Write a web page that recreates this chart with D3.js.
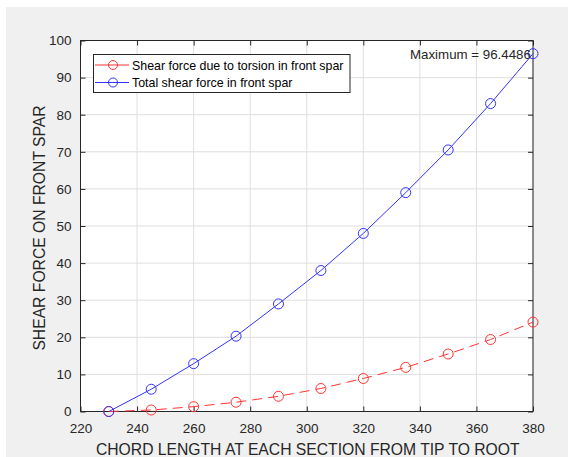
<!DOCTYPE html>
<html>
<head>
<meta charset="utf-8">
<script src="https://cdn.jsdelivr.net/npm/d3@7"></script>
<style>
  body { margin: 0; background: #fff; }
  text { font-family: "Liberation Sans", Arial, sans-serif; }
</style>
</head>
<body>
<script>
var chord = [230, 245, 260, 275, 290, 305, 320, 335, 350, 365, 380];
var torsionShear = [0, 0.4, 1.3, 2.5, 4.1, 6.2, 8.9, 11.9, 15.5, 19.4, 24.1];
var totalShear = [0, 6.0, 12.9, 20.3, 29.0, 38.0, 48.0, 59.0, 70.5, 83.0, 96.4486];
var xTicks = [220, 240, 260, 280, 300, 320, 340, 360, 380];
var yTicks = [0, 10, 20, 30, 40, 50, 60, 70, 80, 90, 100];
var seriesNames = ["Shear force due to torsion in front spar", "Total shear force in front spar"];

var width = 575, height = 457;
var plotL = 80.5, plotR = 533, plotT = 40.5, plotB = 411.5;

var svg = d3.select("body").append("svg")
  .attr("width", width)
  .attr("height", height);

svg.append("rect")
  .attr("x", 6).attr("y", 7)
  .attr("width", 562).attr("height", 450)
  .attr("fill", "#f0f0f0");

var x = d3.scaleLinear().domain([220, 380]).range([plotL, plotR]);
var y = d3.scaleLinear().domain([0, 100]).range([plotB, plotT]);

svg.append("rect")
  .attr("x", plotL).attr("y", plotT)
  .attr("width", plotR - plotL).attr("height", plotB - plotT)
  .attr("fill", "#fff");

// grid
var grid = svg.append("g").attr("stroke", "#dfdfdf").attr("stroke-width", 1);
xTicks.forEach(function (t) {
  grid.append("line").attr("x1", x(t)).attr("x2", x(t)).attr("y1", plotT).attr("y2", plotB);
});
yTicks.forEach(function (t) {
  grid.append("line").attr("x1", plotL).attr("x2", plotR).attr("y1", y(t)).attr("y2", y(t));
});

// axes with inward ticks
function styleAxis(g) {
  g.select(".domain").remove();
  g.selectAll(".tick line").attr("stroke", "#262626");
  g.selectAll(".tick text").attr("fill", "#262626").style("font-size", "13.5px")
    .style("font-family", "Liberation Sans, Arial, sans-serif");
}
svg.append("g").attr("transform", "translate(0," + plotB + ")")
  .call(d3.axisBottom(x).tickValues(xTicks).tickSizeInner(-5).tickSizeOuter(0).tickPadding(12))
  .call(styleAxis);
svg.append("g").attr("transform", "translate(0," + plotT + ")")
  .call(d3.axisTop(x).tickValues(xTicks).tickSizeInner(-5).tickSizeOuter(0).tickFormat(""))
  .call(styleAxis);
svg.append("g").attr("transform", "translate(" + plotL + ",0)")
  .call(d3.axisLeft(y).tickValues(yTicks).tickSizeInner(-5).tickSizeOuter(0).tickPadding(9))
  .call(styleAxis);
svg.append("g").attr("transform", "translate(" + plotR + ",0)")
  .call(d3.axisRight(y).tickValues(yTicks).tickSizeInner(-5).tickSizeOuter(0).tickFormat(""))
  .call(styleAxis);

svg.append("rect")
  .attr("x", plotL).attr("y", plotT)
  .attr("width", plotR - plotL).attr("height", plotB - plotT)
  .attr("fill", "none").attr("stroke", "#262626").attr("stroke-width", 1);

// series
var line = d3.line().x(function (d) { return x(d[0]); }).y(function (d) { return y(d[1]); });
var series = [
  { name: seriesNames[0], values: torsionShear, color: "#ff3333", dash: "10,6" },
  { name: seriesNames[1], values: totalShear, color: "#3333ff", dash: null }
];
series.forEach(function (s) {
  var pts = chord.map(function (c, i) { return [c, s.values[i]]; });
  svg.append("path").datum(pts)
    .attr("d", line)
    .attr("fill", "none")
    .attr("stroke", s.color)
    .attr("stroke-width", 1)
    .attr("stroke-dasharray", s.dash);
  svg.selectAll(null).data(pts).enter().append("circle")
    .attr("cx", function (d) { return x(d[0]); })
    .attr("cy", function (d) { return y(d[1]); })
    .attr("r", 5)
    .attr("fill", "none")
    .attr("stroke", s.color)
    .attr("stroke-width", 1);
});

// annotation
svg.append("text")
  .attr("x", 410).attr("y", 59)
  .attr("fill", "#262626")
  .style("font-size", "13.3px")
  .text("Maximum = " + totalShear[totalShear.length - 1]);

// legend
var lg = svg.append("g");
lg.append("rect")
  .attr("x", 93.5).attr("y", 54.5)
  .attr("width", 256.5).attr("height", 38)
  .attr("fill", "#fff").attr("stroke", "#262626").attr("stroke-width", 1);
series.forEach(function (s, i) {
  var ly = 65 + i * 17.5;
  lg.append("line").attr("x1", 95).attr("x2", 129).attr("y1", ly).attr("y2", ly)
    .attr("stroke", s.color).attr("stroke-width", 1);
  lg.append("circle").attr("cx", 113).attr("cy", ly).attr("r", 4.5)
    .attr("fill", "none").attr("stroke", s.color);
  lg.append("text").attr("x", 132).attr("y", ly + 4.5)
    .attr("fill", "#000").style("font-size", "12.4px").text(s.name);
});

// axis labels
svg.append("text")
  .attr("x", (plotL + plotR) / 2 + 1).attr("y", 455)
  .attr("text-anchor", "middle")
  .attr("fill", "#262626")
  .style("font-size", "15.7px")
  .text("CHORD LENGTH AT EACH SECTION FROM TIP TO ROOT");
svg.append("text")
  .attr("transform", "translate(45," + ((plotT + plotB) / 2 + 2) + ") rotate(-90)")
  .attr("text-anchor", "middle")
  .attr("fill", "#262626")
  .style("font-size", "15.7px")
  .text("SHEAR FORCE ON FRONT SPAR");
</script>
</body>
</html>
